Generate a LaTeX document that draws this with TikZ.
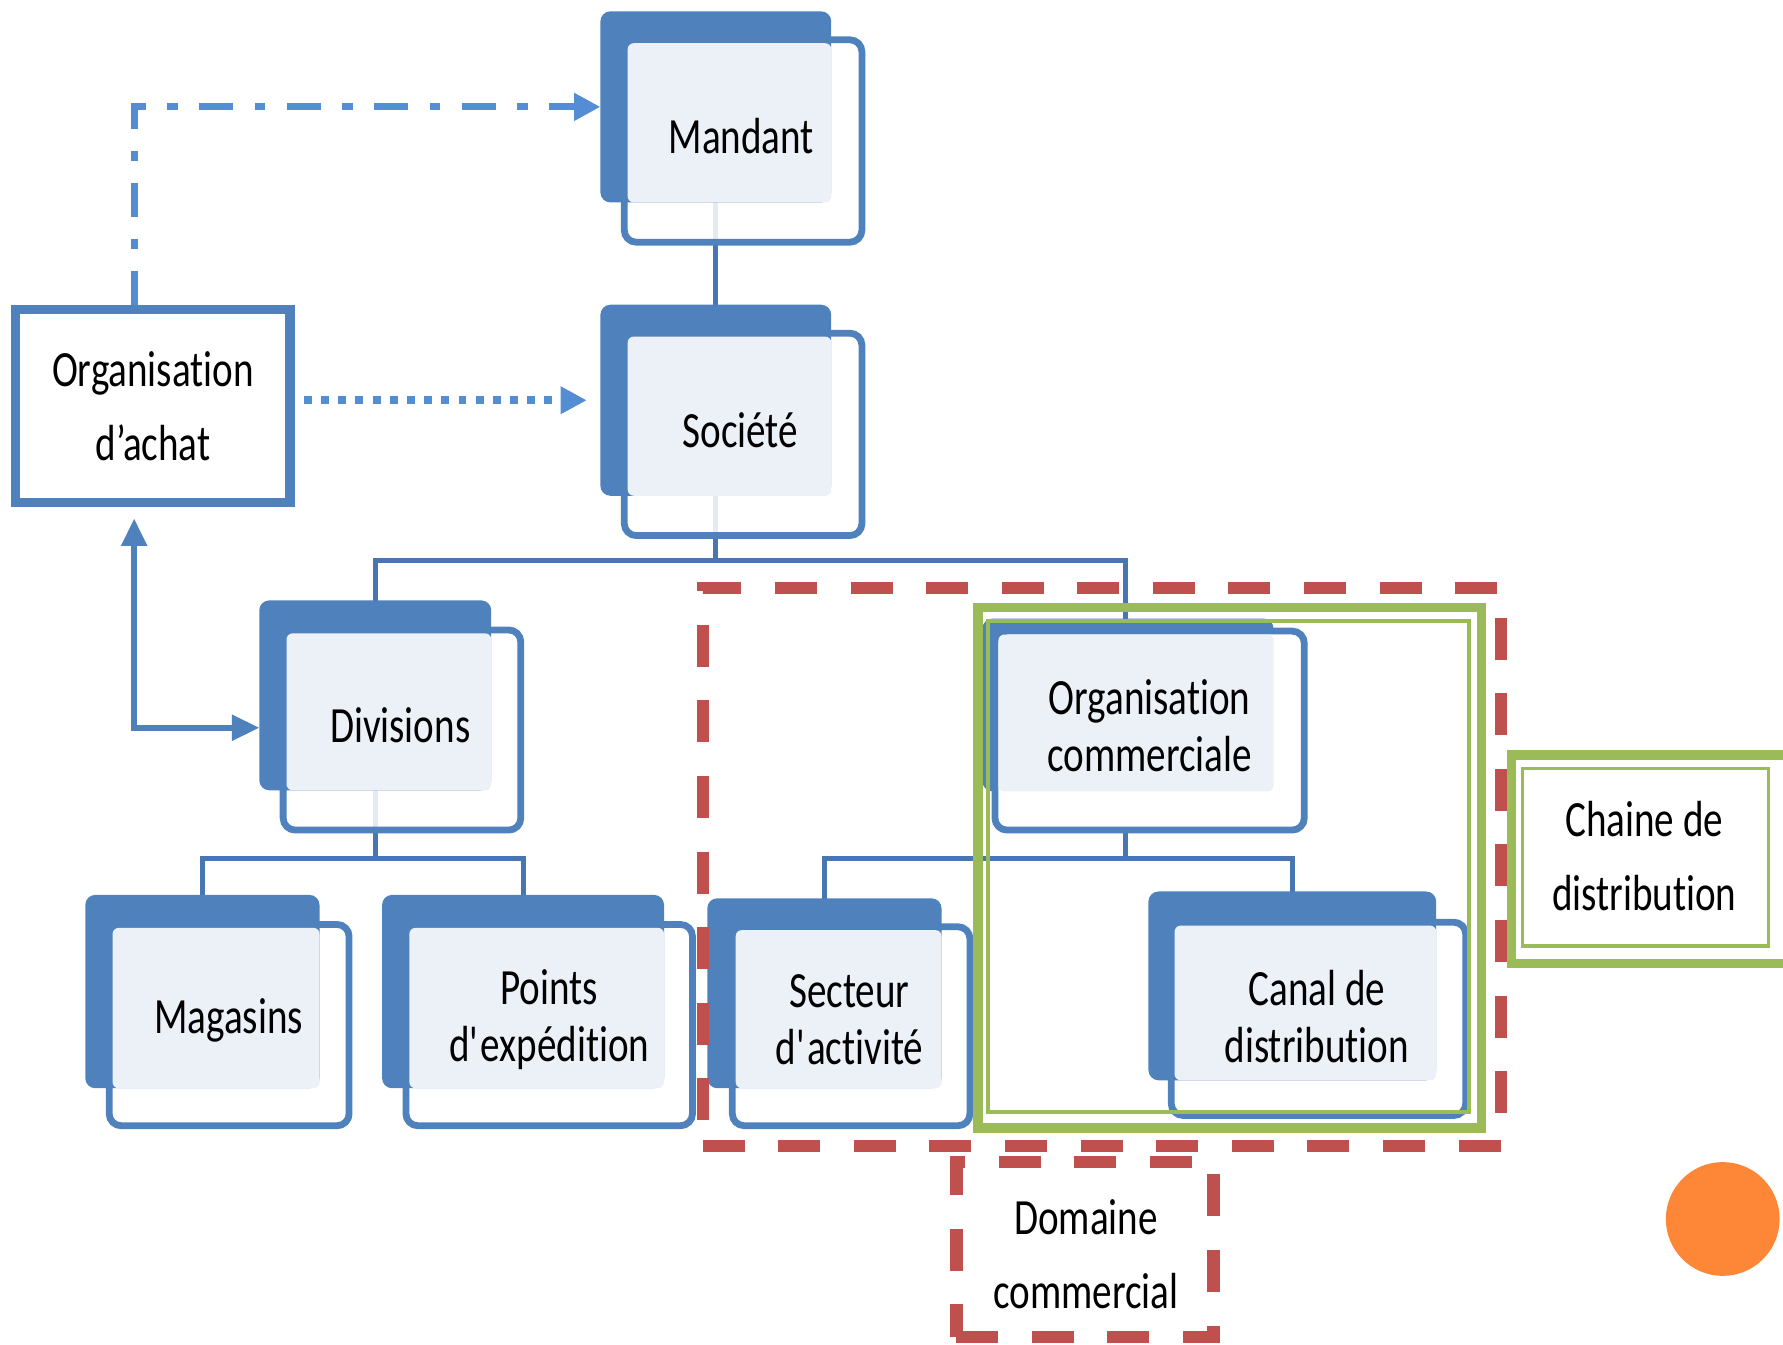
\documentclass[tikz,border=0pt]{standalone}
\usepackage{fontspec}
\setmainfont{Carlito}
\newfontfamily\labfont[FakeStretch=0.77,Ligatures={NoCommon,NoContextual}]{Carlito}
\usetikzlibrary{arrows.meta,fit,calc}
\definecolor{bmain}{RGB}{79,129,189}
\definecolor{lightf}{RGB}{236,241,248}
\definecolor{connc}{RGB}{72,118,178}
\definecolor{arrc}{RGB}{84,141,212}
\definecolor{redc}{RGB}{192,80,77}
\definecolor{grc}{RGB}{155,187,89}
\definecolor{orc}{RGB}{253,134,55}
\newcommand\orgunit[4]{%
  \node[frontbox, fit={#3}] (#1F) {};
  \node[backbox, fit={#2}] (#1B) {};
  \node[lightbox, fit={#4}] (#1L) {};
}
\begin{document}
\begin{tikzpicture}[x=0.01cm,y=-0.01cm,
  backbox/.style={fill=bmain, draw=none, rounded corners=2.5pt, inner sep=0pt, outer sep=0pt},
  frontbox/.style={draw=bmain, line width=1.7pt, fill=white, fill opacity=0.85, rounded corners=3pt, inner sep=0pt},
  lightbox/.style={fill=lightf, draw=none, rounded corners=1.5pt, inner sep=0pt, outer sep=0pt},
  lab/.style={font=\labfont\fontsize{12.7}{14.2}\selectfont, align=center, text=black, inner sep=0pt},
  labw/.style={font=\labfont\fontsize{12.7}{18.5}\selectfont, align=center, text=black, inner sep=0pt},
  conn/.style={draw=connc, line width=1.25pt},
  reddash/.style={draw=redc, line width=3.1pt, dash pattern=on 10.5pt off 8.4pt, inner sep=0pt},
  grthick/.style={draw=grc, line width=2.3pt, inner sep=0pt},
  grthin/.style={draw=grc, line width=0.85pt, inner sep=0pt},
  arrtip/.tip={Triangle[length=0.23cm,width=0.23cm]}
]
\useasboundingbox (0,0) rectangle (1568,1182);

% ---- connector levels and unit centres
\coordinate (busA) at (0,493);
\coordinate (busB) at (0,755);
\coordinate (busC) at (0,755);
\coordinate (mandC) at (629.5,94);
\coordinate (socC) at (629.5,352);
\coordinate (divC) at (330,611);
\coordinate (magC) at (178,872);
\coordinate (ptC) at (460,872);
\coordinate (secC) at (725,873);
\coordinate (ocC) at (990,620);
\coordinate (canC) at (1136.5,867);

\draw[conn] (mandC) -- (socC);
\draw[conn] (socC) -- (socC |- busA) -| (divC);
\draw[conn] (socC |- busA) -| (ocC);
\draw[conn] (divC) -- (divC |- busB) -| (magC);
\draw[conn] (divC |- busB) -| (ptC);
\draw[conn] (ocC) -- (ocC |- busC) -| (secC);
\draw[conn] (ocC |- busC) -| (canC);

\orgunit{mand}{(528,10)(731,178)}{(549,35)(758,213)}{(552,38)(731,178)}
\orgunit{soc}{(528,268)(731,436)}{(549,293)(758,471)}{(552,296)(731,436)}
\orgunit{div}{(228,528)(432,695)}{(249,554)(458,730)}{(252,557)(432,695)}
\orgunit{mag}{(75,787)(281,957)}{(96,813)(307,990)}{(99,816)(281,957)}
\orgunit{pt}{(336,787)(584,957)}{(357,813)(609,990)}{(360,816)(584,957)}
\orgunit{sec}{(622,790)(828,957)}{(644,815)(853,990)}{(647,818)(828,957)}
\orgunit{can}{(1010,784)(1263,950)}{(1030,811)(1289,981)}{(1033,814)(1263,950)}
% Organisation commerciale: front drawn over back
\node[backbox, fit={(864,544)(1120,696)}] (ocB) {};
\node[frontbox, fill opacity=1, fit={(875,555)(1147,730)}] (ocF) {};
\node[lightbox, fit={(878,558)(1120,696)}] (ocL) {};

% ---- labels
\node[lab] (mand) at (652,120) {Mandant};
\node[lab] (soc) at (651,378) {Société};
\node[lab] (div) at (352,638) {Divisions};
\node[lab] (mag) at (201,897) {Magasins};
\node[lab] (pt) at (483,897) {Points\\d\textquotesingle exp\'edition};
\node[lab] (sec) at (747,897) {Secteur\\d\textquotesingle activit\'e};
\node[lab] (oc) at (1011,638) {Organisat\kern0pt ion\\commerciale};
\node[lab] (can) at (1158,894) {Canal de\\distribution};

% ---- Organisation d'achat
\node[draw=bmain, line width=2.3pt, minimum width=2.41cm, minimum height=1.70cm, inner sep=0pt,
      labw] (oa) at (134.5,357) {Organisat\kern0pt ion\\d’achat};

\coordinate (cnr) at (118,640);
\draw[draw=bmain, line width=1.4pt, {Triangle[length=0.24cm,width=0.22cm]}-{Triangle[length=0.24cm,width=0.22cm]},
      shorten <=0.1cm] (oa.south -| cnr) -- (cnr) -- (cnr -| divB.west);
\draw[draw=arrc, line width=1.8pt, dash pattern=on 8.5pt off 5.4pt on 2.6pt off 5.4pt, -arrtip]
      (oa.north -| cnr) |- (mandB.west);
\draw[draw=arrc, line width=2pt, dash pattern=on 2pt off 2.3pt, -arrtip,
      shorten <=0.08cm, shorten >=0.12cm] (oa.east |- socB.west) -- (socB.west);

% ---- red dashed domain
\node[reddash, fit={(618,517)(1320,1008)}] (dom) {};
\node[reddash, fit={(841,1022)(1067,1176)}] (domlab) {};
\node[labw] (domt) at (955,1103) {Domaine\\commercial};

% ---- green distribution chain
\node[grthick, fit={(860,534)(1303,992)}] (chO) {};
\node[grthin, fit={(869,546)(1292,978)}] (chI) {};
\node[grthick, fit={(1329,664)(1600,847)}] (cdO) {};
\node[grthin, fit={(1339,676)(1555,832)}] (cdI) {};
\node[labw] (cdt) at (1446,753) {Chaine de\\distribution};

% ---- orange dot
\node[circle, fill=orc, minimum size=1cm, inner sep=0pt] (dot) at (1515,1072) {};
\end{tikzpicture}
\end{document}
